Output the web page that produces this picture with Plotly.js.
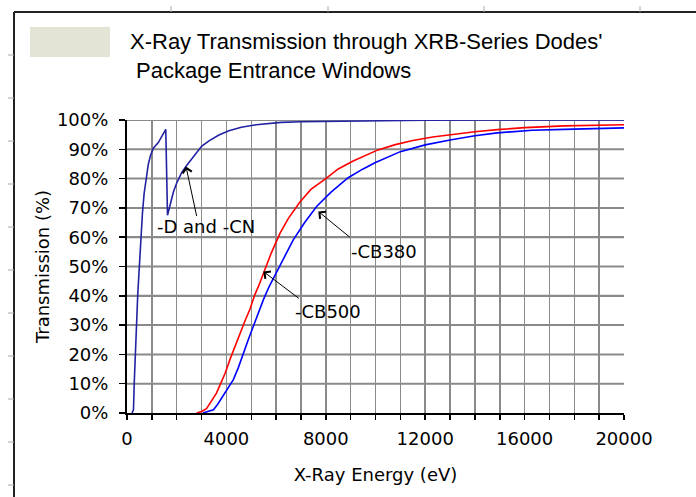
<!DOCTYPE html>
<html>
<head>
<meta charset="utf-8">
<script src="https://cdn.plot.ly/plotly-3.0.1.min.js"></script>
<style>html,body{margin:0;padding:0;background:#fff;}#chart{width:696px;height:497px;}</style>
</head>
<body>
<div id="chart"></div>
<script>
// ---- data ----
const dcnEnergy = [200, 260, 290, 330, 380, 430, 470, 520, 560, 620, 690, 770, 860, 950, 1060, 1260, 1400, 1560, 1630, 1750, 1870, 2000, 2200, 2400, 2600, 2800, 3000, 3300, 3700, 4100, 4600, 5200, 6200, 7000, 8000, 9000, 10000, 12000, 15000, 20000];
const dcnTrans  = [0, 1, 10, 20, 31, 40, 46, 55, 61, 68, 75, 80, 85, 88, 90.4, 92.3, 94.3, 96.8, 67.5, 72, 75.5, 78.5, 82, 84.5, 86.8, 88.9, 91.0, 92.9, 94.9, 96.3, 97.5, 98.4, 99.2, 99.4, 99.5, 99.7, 99.8, 99.9, 100, 100];

const cb500Energy = [2800, 3000, 3200, 3410, 3600, 3740, 3945, 4145, 4350, 4550, 4750, 4950, 5150, 5290, 5490, 5800, 6160, 6500, 6960, 7400, 8000, 8500, 9100, 9600, 10100, 10800, 11500, 12300, 13000, 14000, 14900, 16000, 17600, 19000, 20000];
const cb500Trans  = [0, 0.5, 1.5, 4.4, 6.8, 9.5, 13.5, 18.3, 23, 27.3, 31.5, 35.5, 40.5, 43.2, 47.8, 54.5, 61.4, 66.5, 72, 76.3, 80, 83.3, 86, 88, 89.8, 91.6, 93, 94.2, 95, 96, 96.7, 97.4, 98, 98.3, 98.4];

const cb380Energy = [3050, 3300, 3480, 3650, 3810, 4000, 4280, 4480, 4680, 4880, 5080, 5290, 5490, 5700, 5890, 6020, 6350, 6690, 7150, 7630, 8200, 8900, 9500, 10000, 11000, 12000, 13000, 14000, 14900, 16300, 17600, 19000, 20000];
const cb380Trans  = [0, 0.5, 1.1, 3, 5.1, 7.5, 11.4, 15.5, 19.9, 25, 29.5, 34.5, 38.7, 42.8, 46, 48.3, 53.5, 59.1, 65, 70.5, 75.3, 80.3, 83.3, 85.5, 89.2, 91.5, 93.2, 94.6, 95.6, 96.5, 96.8, 97.1, 97.3];

const xRange = [0, 20000];
const yTickValues = [0, 10, 20, 30, 40, 50, 60, 70, 80, 90, 100];
const seriesNames = ['-D and -CN', '-CB500', '-CB380'];
const titleLine1 = "X-Ray Transmission through XRB-Series Dodes'";
const titleLine2 = "Package Entrance Windows";
const xTitle = 'X-Ray Energy (eV)';
const yTitle = 'Transmission (%)';

// ---- layout helpers (pixel -> paper) ----
const L = 127, R = 624, T = 120, B = 413;
const px = x => (x - L) / (R - L);
const py = y => (B - y) / (B - T);
const FONT = 'DejaVu Sans, Liberation Sans, Arial, sans-serif';
const gridColor = '#8a8a8a';

// horizontal gridlines as one segmented line through the axes' own scales
const gridX = [], gridY = [];
yTickValues.slice(1).forEach(v => { gridX.push(xRange[0], xRange[1], null); gridY.push(v, v, null); });

const traces = [
  {x: gridX, y: gridY, type: 'scatter', mode: 'lines', line: {color: gridColor, width: 2}, hoverinfo: 'skip', showlegend: false, connectgaps: false},
  {x: dcnEnergy, y: dcnTrans, name: seriesNames[0], type: 'scatter', mode: 'lines', line: {color: '#2222a2', width: 1.6}},
  {x: cb500Energy, y: cb500Trans, name: seriesNames[1], type: 'scatter', mode: 'lines', line: {color: '#ff0000', width: 1.6}},
  {x: cb380Energy, y: cb380Trans, name: seriesNames[2], type: 'scatter', mode: 'lines', line: {color: '#0000ff', width: 1.6}}
];

const shapes = [];
// outer frame
shapes.push({type: 'line', xref: 'paper', yref: 'paper', x0: px(14), x1: px(14), y0: py(12), y1: py(497), line: {color: '#222', width: 2}});
shapes.push({type: 'line', xref: 'paper', yref: 'paper', x0: px(14), x1: px(696), y0: py(12), y1: py(12), line: {color: '#222', width: 2}});
[171, 328, 484, 640].forEach(x => shapes.push({type: 'line', xref: 'paper', yref: 'paper', x0: px(x), x1: px(x), y0: py(6), y1: py(12), line: {color: '#aaa', width: 1}}));
for (let y = 55; y <= 490; y += 43) shapes.push({type: 'line', xref: 'paper', yref: 'paper', x0: px(8), x1: px(14), y0: py(y), y1: py(y), line: {color: '#aaa', width: 1}});
// legend swatch
shapes.push({type: 'rect', xref: 'paper', yref: 'paper', x0: px(30), x1: px(110), y0: py(57), y1: py(27), fillcolor: '#e4e4d6', line: {width: 0}});

const annFont = {family: FONT, size: 18, color: '#000'};
const annotations = [
  {x: 3179, y: 63.6, text: seriesNames[0], showarrow: false, font: annFont},
  {x: 8089, y: 34.6, text: seriesNames[1], showarrow: false, font: annFont},
  {x: 10342, y: 55.1, text: seriesNames[2], showarrow: false, font: annFont},
  {x: 2374, y: 84.1, ax: 11, ay: 51, text: '', showarrow: true, arrowhead: 4, arrowsize: 1.8, arrowwidth: 1, arrowcolor: '#000'},
  {x: 5485, y: 48.3, ax: 37, ay: 28, text: '', showarrow: true, arrowhead: 4, arrowsize: 1.8, arrowwidth: 1, arrowcolor: '#000'},
  {x: 7698, y: 68.8, ax: 33, ay: 27, text: '', showarrow: true, arrowhead: 4, arrowsize: 1.8, arrowwidth: 1, arrowcolor: '#000'}
];

const layout = {
  width: 696, height: 497,
  margin: {l: L, r: 696 - R, t: T, b: 497 - B, pad: 0},
  paper_bgcolor: '#fff', plot_bgcolor: '#fff',
  showlegend: false,
  title: {
    text: titleLine1 + '<br>&nbsp;' + titleLine2,
    font: {family: 'Liberation Sans, Arial, sans-serif', size: 22, color: '#000'},
    xref: 'container', x: 130 / 696, xanchor: 'left',
    yref: 'container', y: 1 - 49 / 497, yanchor: 'top'
  },
  xaxis: {
    range: xRange, dtick: 4000, tick0: 0, tickformat: 'd',
    ticks: 'outside', ticklen: 5, tickcolor: '#000', tickwidth: 1.5,
    showline: true, linecolor: '#000', linewidth: 2,
    showgrid: true, gridcolor: gridColor, gridwidth: 1.5,
    minor: {dtick: 1000, ticks: 'outside', ticklen: 5, tickcolor: '#000', tickwidth: 1.5, showgrid: true, gridcolor: gridColor, gridwidth: 1.5},
    zeroline: false, fixedrange: true, ticklabelstandoff: 3,
    tickfont: {family: FONT, size: 18, color: '#000'},
    title: {text: xTitle, font: {family: FONT, size: 18, color: '#000'}, standoff: 21}
  },
  yaxis: {
    range: [0, 100], dtick: 10, tick0: 0, ticksuffix: '%',
    ticks: 'outside', ticklen: 6, tickcolor: '#000', tickwidth: 1.5,
    showline: true, linecolor: '#000', linewidth: 2,
    showgrid: true, gridcolor: gridColor, gridwidth: 1.5,
    zeroline: false, fixedrange: true, ticklabelstandoff: 7,
    tickfont: {family: FONT, size: 18, color: '#000'},
    title: {text: yTitle, font: {family: FONT, size: 18, color: '#000'}, standoff: 3}
  },
  shapes: shapes,
  annotations: annotations
};

Plotly.newPlot('chart', traces, layout, {displayModeBar: false, staticPlot: true});
</script>
</body>
</html>
